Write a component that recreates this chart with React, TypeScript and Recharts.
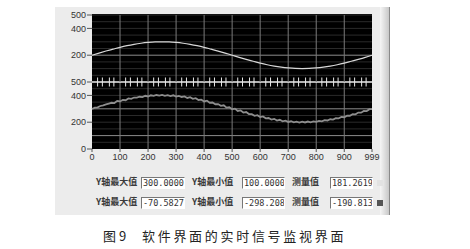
import React from "react";
import {
  ComposedChart,
  Line,
  Scatter,
  XAxis,
  YAxis,
  ReferenceLine,
} from "recharts";

// sample positions along the x axis
const UPPER_X = [
  0, 25, 50, 75, 100, 125, 150, 175, 200, 225, 250, 275, 300, 325, 350, 375,
  400, 425, 450, 475, 500, 525, 550, 575, 600, 625, 650, 675, 700, 725, 750,
  775, 800, 825, 850, 875, 900, 925, 950, 975, 999,
];
const UPPER_Y = [
  200, 216, 231, 245, 259, 271, 281, 289, 295, 299, 300, 299, 295, 289, 281,
  271, 259, 245, 231, 216, 200, 184, 169, 155, 141, 129, 119, 111, 105, 101,
  100, 101, 105, 111, 119, 129, 141, 155, 169, 184, 200,
];

const LOWER_X = [
  0, 10, 20, 30, 40, 50, 60, 70, 80, 90, 100, 110, 120, 130, 140, 150, 160,
  170, 180, 190, 200, 210, 220, 230, 240, 250, 260, 270, 280, 290, 300, 310,
  320, 330, 340, 350, 360, 370, 380, 390, 400, 410, 420, 430, 440, 450, 460,
  470, 480, 490, 500, 510, 520, 530, 540, 550, 560, 570, 580, 590, 600, 610,
  620, 630, 640, 650, 660, 670, 680, 690, 700, 710, 720, 730, 740, 750, 760,
  770, 780, 790, 800, 810, 820, 830, 840, 850, 860, 870, 880, 890, 900, 910,
  920, 930, 940, 950, 960, 970, 980, 990, 999,
];
const LOWER_Y = [
  298, 309, 311, 321, 326, 333, 339, 345, 343, 359, 355, 366, 364, 377, 374,
  384, 383, 390, 387, 397, 392, 401, 396, 403, 399, 404, 397, 402, 395, 401,
  391, 396, 388, 392, 381, 387, 374, 379, 366, 368, 355, 361, 345, 347, 334,
  335, 322, 326, 309, 312, 297, 301, 284, 288, 272, 276, 261, 260, 248, 252,
  238, 243, 229, 231, 220, 225, 212, 218, 207, 211, 202, 207, 199, 204, 197,
  204, 198, 205, 199, 206, 202, 210, 206, 215, 213, 222, 219, 230, 229, 239,
  237, 249, 248, 260, 259, 272, 271, 284, 283, 297, 297,
];

// short marks on the white separator line
const SEP_TICKS = [
  20, 37, 62, 78, 120, 137, 162, 178, 220, 237, 262, 278, 320, 337, 362, 378,
  420, 437, 462, 478, 520, 537, 562, 578, 620, 637, 662, 678, 720, 737, 762,
  778, 820, 837, 862, 878, 920, 937, 962, 978,
];

const X_TICKS = [0, 100, 200, 300, 400, 500, 600, 700, 800, 900, 999];
const X_GRID = [100, 200, 300, 400, 500, 600, 700, 800, 900];
const UPPER_Y_TICKS = [200, 400, 500];
const LOWER_Y_TICKS = [0, 200, 400, 500];
const UPPER_MINOR = [50, 100, 150, 250, 300, 350, 400, 450, 500];
const UPPER_MAJOR = [200];
const LOWER_MINOR = [50, 150, 200, 250, 350, 400, 450];
const LOWER_MAJOR = [100, 300];

const ROW_LABELS = ["Y轴最大值", "Y轴最小值", "测量值"];
const ROW1_VALUES = ["300.0000", "100.0000", "181.2619"];
const ROW2_VALUES = ["-70.5827", "-298.208", "-190.813"];

const upperData = UPPER_X.map((x, i) => ({ x, y: UPPER_Y[i] }));
const lowerData = LOWER_X.map((x, i) => ({ x, y: LOWER_Y[i] }));
const tickData = SEP_TICKS.map((x) => ({ x, y: 500 }));

const axisFont = { fill: "#333", fontSize: 9, fontFamily: "Liberation Sans" };

const TickMark = (props: any) => (
  <line
    x1={props.cx}
    x2={props.cx}
    y1={props.cy - 4.5}
    y2={props.cy + 4.5}
    stroke="#e8e8e8"
    strokeWidth={1}
  />
);

const LABEL_X = [96, 192, 292];
const BOX_X = [141, 242, 330];
const BOX_W = [41, 40, 40];

function ValueRow({ top, values }: { top: number; values: string[] }) {
  return (
    <>
      {ROW_LABELS.map((label, i) => (
        <React.Fragment key={label}>
          <div
            style={{
              position: "absolute",
              left: LABEL_X[i],
              top: top - 1,
              fontSize: 9,
              lineHeight: "12px",
              fontWeight: 700,
              color: "#3a3a3a",
              fontFamily: "Noto Sans CJK SC",
              whiteSpace: "nowrap",
            }}
          >
            {label}
          </div>
          <div
            style={{
              position: "absolute",
              left: BOX_X[i],
              top,
              width: BOX_W[i],
              height: 10,
              background: "#fff",
              borderTop: "1px solid #777",
              borderLeft: "1px solid #777",
              borderBottom: "1px solid #fff",
              borderRight: "1px solid #fff",
              overflow: "hidden",
              fontSize: 8.5,
              lineHeight: "10px",
              fontFamily: "DejaVu Sans Mono",
              color: "#333",
              whiteSpace: "nowrap",
              paddingLeft: 1,
              boxSizing: "content-box",
            }}
          >
            {values[i]}
          </div>
        </React.Fragment>
      ))}
    </>
  );
}

export default function App() {
  return (
    <div
      style={{
        position: "absolute",
        left: 0,
        top: 0,
        width: 470,
        height: 249,
        background: "#fff",
        overflow: "hidden",
      }}
    >
      {/* panel */}
      <div
        style={{
          position: "absolute",
          left: 55,
          top: 7,
          width: 334,
          height: 208,
          background: "#ececec",
          borderRight: "1px solid #8a8a8a",
        }}
      />
      <div
        style={{
          position: "absolute",
          left: 380,
          top: 7,
          width: 9,
          height: 208,
          background: "linear-gradient(to right, #f6f6f6, #c8c8c8)",
        }}
      />
      {/* plot background */}
      <div
        style={{
          position: "absolute",
          left: 92,
          top: 14,
          width: 280,
          height: 135,
          background: "#000",
        }}
      />

      <div style={{ position: "absolute", left: 0, top: 0 }}>
        <ComposedChart
          width={390}
          height={170}
          data={lowerData}
          margin={{ top: 82, right: 18, bottom: 0, left: 0 }}
        >
          <XAxis
            dataKey="x"
            type="number"
            domain={[0, 999]}
            ticks={X_TICKS}
            interval={0}
            height={21}
            tick={axisFont}
            tickSize={3}
            tickMargin={2}
            tickLine={{ stroke: "#555" }}
            axisLine={false}
          />
          <YAxis
            type="number"
            domain={[0, 500]}
            ticks={LOWER_Y_TICKS}
            width={92}
            tick={axisFont}
            tickSize={5}
            tickMargin={1}
            tickLine={{ stroke: "#555" }}
            axisLine={false}
            interval={0}
          />
          {LOWER_MINOR.map((v) => (
            <ReferenceLine key={"lm" + v} y={v} stroke="#2a2a2a" />
          ))}
          {LOWER_MAJOR.map((v) => (
            <ReferenceLine key={"lM" + v} y={v} stroke="#8c8c8c" />
          ))}
          {X_GRID.map((v) => (
            <ReferenceLine key={"lx" + v} x={v} stroke="#7a7a7a" />
          ))}
          <ReferenceLine y={500} stroke="#eeeeee" strokeWidth={1.5} />
          <Line
            dataKey="y"
            type="linear"
            stroke="#8e8e8e"
            strokeWidth={1.8}
            dot={false}
            isAnimationActive={false}
          />
          <Scatter
            data={tickData}
            dataKey="y"
            shape={TickMark}
            isAnimationActive={false}
          />
        </ComposedChart>
      </div>

      <div style={{ position: "absolute", left: 0, top: 0 }}>
        <ComposedChart
          width={390}
          height={90}
          data={upperData}
          margin={{ top: 15, right: 18, bottom: 8, left: 0 }}
        >
          <XAxis
            dataKey="x"
            type="number"
            domain={[0, 999]}
            ticks={X_TICKS}
            hide
          />
          <YAxis
            type="number"
            domain={[0, 500]}
            ticks={UPPER_Y_TICKS}
            width={92}
            tick={axisFont}
            tickSize={5}
            tickMargin={1}
            tickLine={{ stroke: "#555" }}
            axisLine={false}
            interval={0}
          />
          {UPPER_MINOR.map((v) => (
            <ReferenceLine key={"um" + v} y={v} stroke="#2a2a2a" />
          ))}
          {UPPER_MAJOR.map((v) => (
            <ReferenceLine key={"uM" + v} y={v} stroke="#8c8c8c" />
          ))}
          {X_GRID.map((v) => (
            <ReferenceLine key={"ux" + v} x={v} stroke="#7a7a7a" />
          ))}
          <Line
            dataKey="y"
            type="monotone"
            stroke="#d8d8d8"
            strokeWidth={1.2}
            dot={false}
            isAnimationActive={false}
          />
        </ComposedChart>
      </div>

      <ValueRow top={177} values={ROW1_VALUES} />
      <ValueRow top={197} values={ROW2_VALUES} />
      <div
        style={{
          position: "absolute",
          left: 377,
          top: 180,
          width: 6,
          height: 6,
          background: "#e2e2e2",
        }}
      />
      <div
        style={{
          position: "absolute",
          left: 377,
          top: 200,
          width: 6,
          height: 6,
          background: "#555",
        }}
      />

      {/* caption */}
      <div
        style={{
          position: "absolute",
          left: 103,
          top: 228,
          fontSize: 13,
          lineHeight: "16px",
          color: "#222",
          fontFamily: "Noto Sans CJK SC",
          whiteSpace: "nowrap",
        }}
      >
        图 9
      </div>
      <div
        style={{
          position: "absolute",
          left: 142,
          top: 228,
          fontSize: 13,
          lineHeight: "16px",
          letterSpacing: 2.7,
          color: "#222",
          fontFamily: "Noto Sans CJK SC",
          whiteSpace: "nowrap",
        }}
      >
        软件界面的实时信号监视界面
      </div>
    </div>
  );
}
